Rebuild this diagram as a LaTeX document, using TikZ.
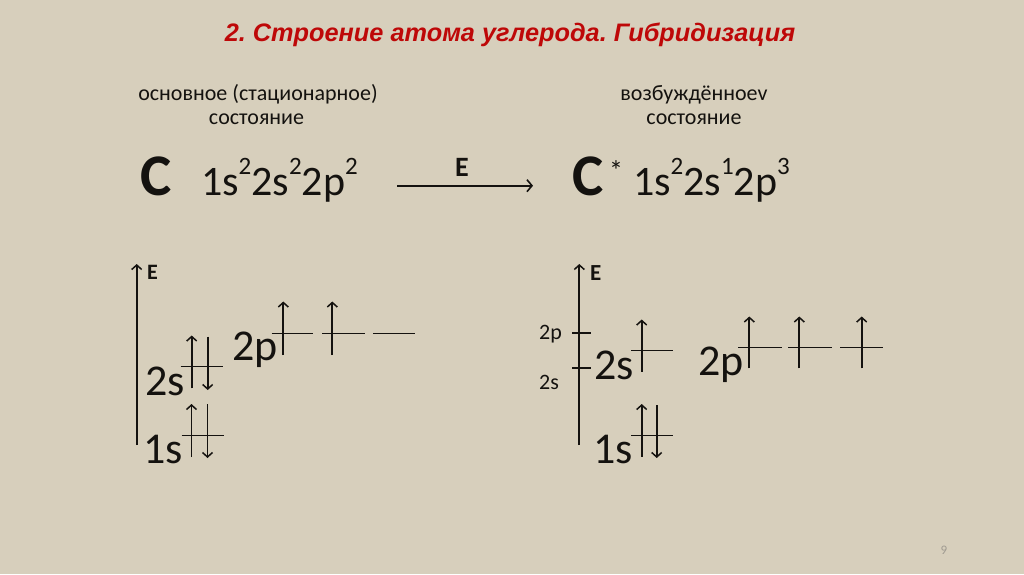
\documentclass[tikz,border=0pt]{standalone}
\usepackage{fontspec}
\setmainfont{Carlito}
\newfontfamily\titlefont{Liberation Sans}
\usetikzlibrary{arrows.meta}
\frenchspacing
\definecolor{bg}{RGB}{215,207,188}
\definecolor{titlered}{RGB}{190,8,8}
\definecolor{ink}{RGB}{20,18,15}
\definecolor{pagegrey}{RGB}{160,155,145}
\newcommand{\fs}[1]{\fontsize{#1pt}{#1pt}\selectfont}
\newcommand{\supr}[1]{\raisebox{21pt}{\fs{25}#1}}
\begin{document}
\begin{tikzpicture}[x=1pt,y=-1pt,
  txt/.style={inner sep=0pt,outer sep=0pt,anchor=base west,text=ink},
  ctxt/.style={inner sep=0pt,outer sep=0pt,anchor=base,text=ink},
  lvl/.style={draw=ink,line width=1.4pt},
  elec/.style={draw=ink,line width=1.7pt,-{Straight Barb[length=4.5pt,width=10pt,line width=1.5pt]}},
  axis/.style={draw=ink,line width=1.9pt,-{Straight Barb[length=4.5pt,width=10pt,line width=1.5pt]}},
  tick/.style={draw=ink,line width=1.7pt}]
\fill[bg] (0,0) rectangle (1024,574);
\useasboundingbox (0,0) rectangle (1024,574);

% title
\node[ctxt,text=titlered,font=\titlefont\bfseries\itshape\fs{25.3}] (title) at (510,41.5) {2. Строение атома углерода. Гибридизация};

% state captions
\node[ctxt,font=\fs{22}] (capL1) at (258,100) {основное (стационарное)};
\node[ctxt,font=\fs{22}] (capL2) at (256.5,124.3) {состояние};
\node[ctxt,font=\fs{22}] (capR1) at (694,100) {возбуждённоеv};
\node[ctxt,font=\fs{22}] (capR2) at (694,124.3) {состояние};

% formulas
\node[txt,font=\bfseries\fs{59}] (CL) at (140.5,195) {C};
\node[txt,font=\fs{42}] (fL) at (201,195) {1s\supr{2}2s\supr{2}2p\supr{2}};
\coordinate (arrA) at (397,185.7);
\coordinate (arrB) at (533,185.7);
\draw[draw=ink,line width=1.8pt,-{Straight Barb[length=5pt,width=12pt,line width=1.6pt]}] (arrA) -- (arrB);
\node[ctxt,font=\bfseries\fs{28}] (EArr) at (462,176) {E};
\node[txt,font=\bfseries\fs{59}] (CR) at (572.5,195) {C};
\node[ctxt,font=\fs{28}] (star) at (616,180) {*};
\node[txt,font=\fs{42}] (fR) at (633,195) {1s\supr{2}2s\supr{1}2p\supr{3}};

% ---------- left diagram ----------
\coordinate (axLb) at (136.7,445);
\coordinate (axLt) at (136.7,264);
\draw[axis] (axLb) -- (axLt);
\node[txt,font=\bfseries\fs{22}] (EL) at (147,279) {E};

\node[txt,font=\fs{44}] (L1s) at (143,463) {1s};
\draw[lvl] (181.7,435.7) -- (224,435.7);
\draw[elec] (191.5,457) -- (191.5,404);
\draw[elec] (207.5,404) -- (207.5,458);

\node[txt,font=\fs{44}] (L2s) at (145,395) {2s};
\draw[lvl] (180.7,366.7) -- (223.3,366.7);
\draw[elec] (191.7,388.3) -- (191.7,335.5);
\draw[elec] (207.7,336.5) -- (207.7,390);

\node[txt,font=\fs{44}] (L2p) at (232,360) {2p};
\draw[lvl] (271.5,333.3) -- (313,333.3);
\draw[lvl] (322,333.3) -- (365,333.3);
\draw[lvl] (373,333.3) -- (415,333.3);
\draw[elec] (283.3,355) -- (283.3,301.5);
\draw[elec] (332.3,355) -- (332.3,301.5);

% ---------- right diagram ----------
\coordinate (axRb) at (579.3,445);
\coordinate (axRt) at (579.3,264);
\draw[axis] (axRb) -- (axRt);
\node[txt,font=\bfseries\fs{23}] (ER) at (590,280) {E};
\draw[tick] (572,333.3) -- (591,333.3);
\draw[tick] (572,368.3) -- (591,368.3);
\node[ctxt,font=\fs{22}] (t2p) at (550.5,339) {2p};
\node[ctxt,font=\fs{22}] (t2s) at (549,389.5) {2s};

\node[txt,font=\fs{44}] (R2s) at (594.5,379) {2s};
\draw[lvl] (631,350.7) -- (673,350.7);
\draw[elec] (641.7,371.7) -- (641.7,319.5);

\node[txt,font=\fs{44}] (R1s) at (593,463) {1s};
\draw[lvl] (631,435.7) -- (673,435.7);
\draw[elec] (641.7,456.7) -- (641.7,404);
\draw[elec] (656.7,405) -- (656.7,458);

\node[txt,font=\fs{44}] (R2p) at (698,375) {2p};
\draw[lvl] (738,347.3) -- (781.7,347.3);
\draw[lvl] (788,347.3) -- (831.7,347.3);
\draw[lvl] (840,347.3) -- (883,347.3);
\draw[elec] (749.3,368.3) -- (749.3,316.5);
\draw[elec] (799.3,368.3) -- (799.3,316.5);
\draw[elec] (861.7,368.3) -- (861.7,316.5);

% page number
\node[ctxt,text=pagegrey,font=\fs{13}] (pg) at (944,554) {9};
\end{tikzpicture}
\end{document}
